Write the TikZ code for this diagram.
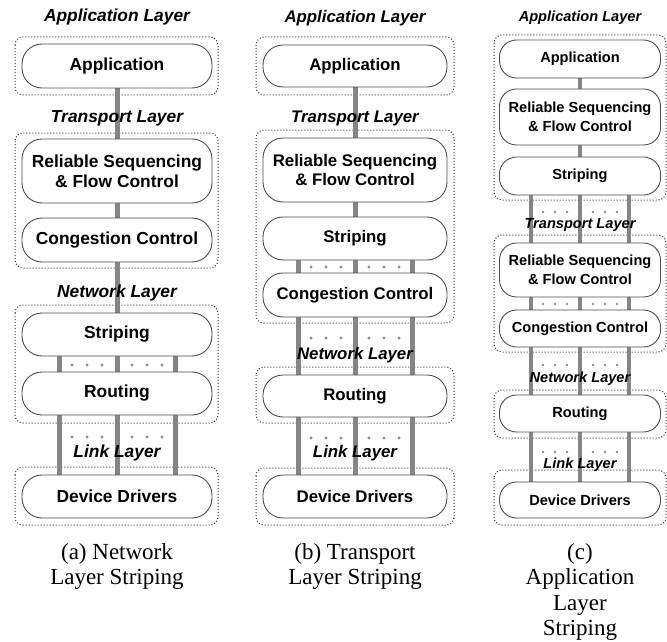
\documentclass[tikz,border=0pt]{standalone}
\usepackage{fontspec}
\setmainfont{Liberation Serif}
\newfontfamily\sansfont{Liberation Sans}
\usetikzlibrary{backgrounds}

\definecolor{barcol}{HTML}{858585}
\definecolor{dotcol}{HTML}{8C8C8C}

\tikzset{
	pill/.style={draw=black!70, line width=0.9pt, fill=white, inner sep=0pt, align=center},
	pillA/.style={pill, rounded corners=20pt, minimum width=190pt, font=\sansfont\bfseries\fontsize{17.4}{20}\selectfont},
	pillB/.style={pill, rounded corners=20pt, minimum width=184pt, font=\sansfont\bfseries\fontsize{16.8}{19.5}\selectfont},
	pillC/.style={pill, rounded corners=17pt, minimum width=161pt, font=\sansfont\bfseries\fontsize{14.6}{19}\selectfont},
	layerbox/.style={draw=black!80, line width=1pt, dotted, rounded corners=8pt},
	bar/.style={draw=barcol, line width=5pt},
	barC/.style={draw=barcol, line width=4pt},
	layerlab/.style={inner sep=0pt, font=\sansfont\bfseries\itshape\fontsize{#1}{#1}\selectfont},
	caption/.style={inner sep=0pt, anchor=north, align=center, font=\fontsize{23}{25.5}\selectfont}
}

\begin{document}
\begin{tikzpicture}[x=1pt,y=-1pt]
	\useasboundingbox (0,0) rectangle (667,642);
	
	%% (a) network layer striping
	\node[pillA, minimum height=44pt] (appA) at (117,66) {Application};
	\node[pillA, minimum height=64pt] (relA) at (117,171) {Reliable Sequencing\\\& Flow Control};
	\node[pillA, minimum height=44pt] (congA) at (117,240) {Congestion Control};
	\node[pillA, minimum height=43pt] (stripA) at (117,334.5) {Striping};
	\node[pillA, minimum height=43pt] (routA) at (117,393.5) {Routing};
	\node[pillA, minimum height=43pt] (devA) at (117,496.5) {Device Drivers};
	
	%% (b) transport layer striping
	\node[pillB, minimum height=42pt] (appB) at (355,66) {Application};
	\node[pillB, minimum height=64pt] (relB) at (355,170) {Reliable Sequencing\\\& Flow Control};
	\node[pillB, minimum height=43pt] (stripB) at (355,238.5) {Striping};
	\node[pillB, minimum height=44pt] (congB) at (355,295) {Congestion Control};
	\node[pillB, minimum height=42pt] (routB) at (355,396) {Routing};
	\node[pillB, minimum height=43pt] (devB) at (355,496.5) {Device Drivers};
	
	%% (c) application layer striping
	\node[pillC, minimum height=38pt] (appC) at (580,59) {Application};
	\node[pillC, minimum height=56pt] (relC) at (580,117) {Reliable Sequencing\\\& Flow Control};
	\node[pillC, minimum height=38pt] (stripC) at (580,176) {Striping};
	\node[pillC, minimum height=54pt] (relTC) at (580,270) {Reliable Sequencing\\\& Flow Control};
	\node[pillC, minimum height=37pt] (congC) at (580,328.5) {Congestion Control};
	\node[pillC, minimum height=37pt] (routC) at (580,413.5) {Routing};
	\node[pillC, minimum height=36pt] (devC) at (580,500) {Device Drivers};
	
	\begin{scope}[on background layer]
		% layer frames
		\draw[layerbox] (15,37) rectangle (218,95);
		\draw[layerbox] (15,133) rectangle (218,268);
		\draw[layerbox] (15,305) rectangle (218,423);
		\draw[layerbox] (15,467) rectangle (218,525);
		\draw[layerbox] (256,37) rectangle (454,95);
		\draw[layerbox] (256,130) rectangle (454,323);
		\draw[layerbox] (256,367) rectangle (454,423);
		\draw[layerbox] (256,468) rectangle (454,525);
		\draw[layerbox] (494,35) rectangle (666,200);
		\draw[layerbox] (494,235) rectangle (666,352);
		\draw[layerbox] (494,390) rectangle (666,438);
		\draw[layerbox] (494,470) rectangle (666,525);
		
		% single links
		\foreach \a/\b in {appA/relA, relA/congA, congA/stripA, appB/relB, relB/stripB}
			\draw[bar] (\a.south) -- (\b.north);
		\foreach \a/\b in {appC/relC, relC/stripC}
			\draw[barC] (\a.south) -- (\b.north);
		
		% striped links
		\foreach \a/\b in {stripA/routA, routA/devA}
			\foreach \dx in {-58,0,58}
				\draw[bar] ([xshift=\dx pt]\a.south) -- ([xshift=\dx pt]\b.north);
		\foreach \a/\b in {stripB/congB, congB/routB, routB/devB}
			\foreach \dx in {-57,0,57}
				\draw[bar] ([xshift=\dx pt]\a.south) -- ([xshift=\dx pt]\b.north);
		\foreach \a/\b in {stripC/relTC, relTC/congC, congC/routC, routC/devC}
			\foreach \dx in {-49,0,49}
				\draw[barC] ([xshift=\dx pt]\a.south) -- ([xshift=\dx pt]\b.north);
	\end{scope}
	
	%% dots between parallel links
	\foreach \y in {365,437}
		\foreach \dx in {-45,-30,-15,15,30,45}
			\fill[dotcol] (117+\dx,\y) circle (1.6pt);
	\foreach \y in {267,338,438}
		\foreach \dx in {-44,-29,-14,14,29,44}
			\fill[dotcol] (355+\dx,\y) circle (1.6pt);
	\foreach \y in {212,304,365,452}
		\foreach \dx in {-37,-25,-13,13,25,37}
			\fill[dotcol] (580+\dx,\y) circle (1.4pt);
	
	%% layer names
	\node[layerlab=17.4] (appLayA) at (117,17) {Application Layer};
	\node[layerlab=17.4] (trLayA) at (117,118) {Transport Layer};
	\node[layerlab=17.4] (netLayA) at (117,293) {Network Layer};
	\node[layerlab=17.4] (linkLayA) at (117,453) {Link Layer};
	\node[layerlab=16.8] (appLayB) at (355,18) {Application Layer};
	\node[layerlab=16.8] (trLayB) at (355,118) {Transport Layer};
	\node[layerlab=16.8] (netLayB) at (355,355) {Network Layer};
	\node[layerlab=16.8] (linkLayB) at (355,453) {Link Layer};
	\node[layerlab=14.6] (appLayC) at (580,18) {Application Layer};
	\node[layerlab=14.6] (trLayC) at (580,225) {Transport Layer};
	\node[layerlab=14.6] (netLayC) at (580,379) {Network Layer};
	\node[layerlab=14.6] (linkLayC) at (580,465) {Link Layer};
	
	%% captions
	\node[caption] (capA) at (117,543) {(a) Network\\Layer Striping};
	\node[caption] (capB) at (355,543) {(b) Transport\\Layer Striping};
	\node[caption] (capC) at (580,543) {(c)\\Application\\Layer\\Striping};
\end{tikzpicture}
\end{document}
